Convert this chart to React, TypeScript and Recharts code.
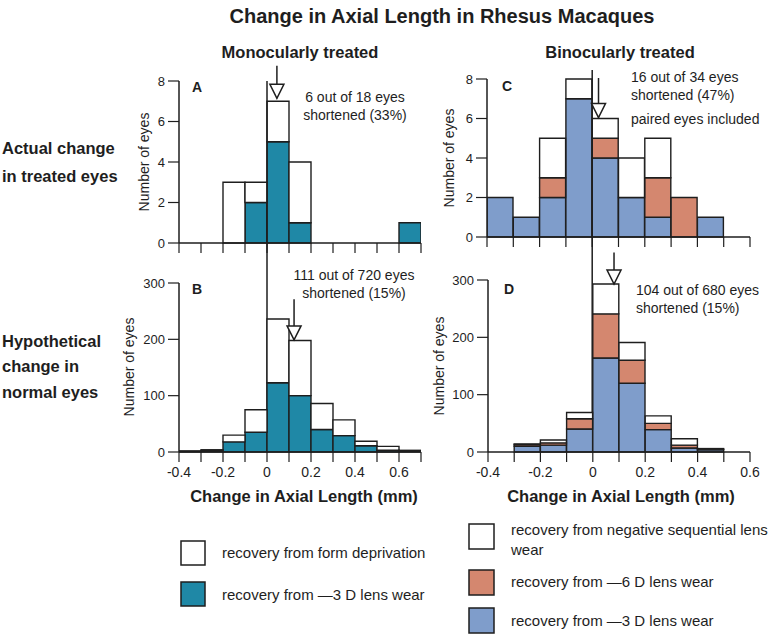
import React from "react";
import { BarChart, Bar, XAxis, YAxis, ReferenceLine, ReferenceDot } from "recharts";

const W = 768;
const H = 634;
const YW = 40;
const XH = 30;
const FONT = "'Liberation Sans', Arial, Helvetica, sans-serif";
const INK = "#1e1e1e";
const TEAL = "#1f88a6";
const BLUE = "#7f9dcb";
const SALMON = "#d4876f";

// bin centres (mm)
const binsMono = [-0.35, -0.25, -0.15, -0.05, 0.05, 0.15, 0.25, 0.35, 0.45, 0.55, 0.65];
const binsBino = [-0.35, -0.25, -0.15, -0.05, 0.05, 0.15, 0.25, 0.35, 0.45, 0.55];
const edgesMono = [-0.4, -0.3, -0.2, -0.1, 0, 0.1, 0.2, 0.3, 0.4, 0.5, 0.6, 0.7];
const edgesBino = [-0.4, -0.3, -0.2, -0.1, 0, 0.1, 0.2, 0.3, 0.4, 0.5, 0.6];
const eyeTicks = [0, 2, 4, 6, 8];
const normalTicks = [0, 100, 200, 300];

// A: monocular, treated eyes
const aLens3 = [0, 0, 0, 2, 5, 1, 0, 0, 0, 0, 1];
const aForm = [0, 0, 3, 1, 2, 3, 0, 0, 0, 0, 0];
// B: monocular, hypothetical normal eyes
const bLens3 = [1, 2, 18, 35, 123, 100, 40, 29, 11, 3, 2];
const bForm = [1, 2, 12, 40, 113, 98, 46, 28, 8, 7, 1];
// C: binocular, treated eyes
const cLens3 = [2, 1, 2, 7, 4, 2, 1, 0, 1, 0];
const cLens6 = [0, 0, 1, 0, 1, 0, 2, 2, 0, 0];
const cSeq = [0, 0, 2, 1, 1, 2, 2, 0, 0, 0];
// D: binocular, hypothetical normal eyes
const dLens3 = [0, 10, 12, 40, 164, 120, 39, 7, 4, 0];
const dLens6 = [0, 3, 4, 18, 77, 40, 11, 5, 1, 0];
const dSeq = [0, 1, 5, 11, 52, 31, 13, 11, 1, 0];

const dataA = binsMono.map((bin, i) => ({ bin, lens3: aLens3[i], form: aForm[i] }));
const dataB = binsMono.map((bin, i) => ({ bin, lens3: bLens3[i], form: bForm[i] }));
const dataC = binsBino.map((bin, i) => ({ bin, lens3: cLens3[i], lens6: cLens6[i], seq: cSeq[i] }));
const dataD = binsBino.map((bin, i) => ({ bin, lens3: dLens3[i], lens6: dLens6[i], seq: dSeq[i] }));

const monoSeries = [
  { key: "lens3", color: TEAL },
  { key: "form", color: "#fff" },
];
const binoSeries = [
  { key: "lens3", color: BLUE },
  { key: "lens6", color: SALMON },
  { key: "seq", color: "#fff" },
];

// plot boxes in page pixels
const boxA = { left: 179, right: 421, top: 81, bottom: 243 };
const boxB = { left: 179, right: 421, top: 283, bottom: 452 };
const boxC = { left: 487, right: 750, top: 79, bottom: 237 };
const boxD = { left: 488, right: 750, top: 280, bottom: 452 };

const evenTick = (p: any) => {
  const v = p.payload.value;
  if (Math.round(v * 10) % 2 !== 0) return <g />;
  return (
    <text x={p.x} y={p.y} dy="0.71em" textAnchor="middle" fontSize={14} fill={INK} fontFamily={FONT}>
      {v === 0 ? "0" : String(v)}
    </text>
  );
};
const noTick = () => <g />;

const head = (p: any) => (
  <path
    d={`M${p.cx - 7},${p.cy - 14} L${p.cx + 7},${p.cy - 14} L${p.cx},${p.cy} Z`}
    fill="#fff"
    stroke={INK}
    strokeWidth={1.5}
  />
);

const arrow = (x: number, tip: number, top: number) => [
  <ReferenceLine
    key="stem"
    segment={[{ x, y: top }, { x, y: tip }]}
    stroke={INK}
    strokeWidth={1.5}
    ifOverflow="visible"
  />,
  <ReferenceDot key="head" x={x} y={tip} r={0} ifOverflow="visible" shape={head} />,
];

const zeroLine = (top: number, bottom: number) => (
  <ReferenceLine
    key="zero"
    segment={[{ x: 0, y: top }, { x: 0, y: bottom }]}
    stroke={INK}
    strokeWidth={1.5}
    ifOverflow="visible"
  />
);

function Hist({ box, data, series, yMax, yTicks, edges, labels, children }: any) {
  return (
    <div style={{ position: "absolute", left: 0, top: 0 }}>
      <BarChart
        width={W}
        height={H}
        data={data}
        barCategoryGap={0}
        barGap={0}
        margin={{ top: box.top, left: box.left - YW, right: W - box.right, bottom: H - box.bottom - XH }}
      >
        <XAxis
          dataKey="bin"
          type="number"
          domain={[edges[0], edges[edges.length - 1]]}
          ticks={edges}
          interval={0}
          allowDataOverflow
          height={XH}
          tickSize={10}
          tickMargin={5}
          axisLine={{ stroke: INK, strokeWidth: 1.5 }}
          tickLine={{ stroke: INK, strokeWidth: 1.2 }}
          tick={labels ? evenTick : noTick}
        />
        <YAxis
          type="number"
          domain={[0, yMax]}
          ticks={yTicks}
          interval={0}
          width={YW}
          tickSize={11}
          tickMargin={3}
          axisLine={{ stroke: INK, strokeWidth: 1.5 }}
          tickLine={{ stroke: INK, strokeWidth: 1.2 }}
          tick={{ fontSize: 13, fill: INK, fontFamily: FONT }}
        />
        {series.map((s: any) => (
          <Bar
            key={s.key}
            dataKey={s.key}
            stackId="h"
            fill={s.color}
            stroke={INK}
            strokeWidth={1.4}
            isAnimationActive={false}
          />
        ))}
        {children}
      </BarChart>
    </div>
  );
}

export default function App() {
  const aUnit = (boxA.bottom - boxA.top) / 8;
  const cUnit = (boxC.bottom - boxC.top) / 8;
  const txt = { fontFamily: FONT, fill: INK } as any;
  return (
    <div style={{ position: "absolute", left: 0, top: 0, width: W, height: H, background: "#fff", overflow: "hidden" }}>
      <Hist box={boxA} data={dataA} series={monoSeries} yMax={8} yTicks={eyeTicks} edges={edgesMono} labels={false}>
        {zeroLine(8, -(boxB.bottom - boxA.bottom) / aUnit)}
        {arrow(0.045, 7.15, 8.75)}
      </Hist>
      <Hist box={boxB} data={dataB} series={monoSeries} yMax={300} yTicks={normalTicks} edges={edgesMono} labels>
        {arrow(0.123, 199, 271)}
      </Hist>
      <Hist box={boxC} data={dataC} series={binoSeries} yMax={8} yTicks={eyeTicks} edges={edgesBino} labels={false}>
        {zeroLine(8 + 9 / cUnit, -(boxD.bottom - boxC.bottom) / cUnit)}
        {arrow(0.024, 6.05, 8.05)}
      </Hist>
      <Hist box={boxD} data={dataD} series={binoSeries} yMax={300} yTicks={normalTicks} edges={edgesBino} labels>
        {arrow(0.081, 293, 348)}
      </Hist>

      <svg width={W} height={H} style={{ position: "absolute", left: 0, top: 0, pointerEvents: "none" }}>
        <text {...txt} x={442} y={23} fontSize={20} fontWeight="bold" textAnchor="middle">
          Change in Axial Length in Rhesus Macaques
        </text>
        <text {...txt} x={300} y={58} fontSize={16.5} fontWeight="bold" textAnchor="middle">
          Monocularly treated
        </text>
        <text {...txt} x={620} y={58} fontSize={16.5} fontWeight="bold" textAnchor="middle">
          Binocularly treated
        </text>

        <g fontSize={16.5} fontWeight="bold" {...txt}>
          <text x={2} y={154}>Actual change</text>
          <text x={2} y={182}>in treated eyes</text>
          <text x={2} y={347}>Hypothetical</text>
          <text x={2} y={372}>change in</text>
          <text x={2} y={398}>normal eyes</text>
        </g>

        <g fontSize={14} {...txt}>
          {[
            [144, 162],
            [129, 367],
            [449, 158],
            [439, 366],
          ].map(([x, y], i) => (
            <text key={i} x={x} y={y} textAnchor="middle" dominantBaseline="central" transform={`rotate(-90 ${x} ${y})`}>
              Number of eyes
            </text>
          ))}
        </g>

        <g fontSize={14} fontWeight="bold" {...txt}>
          <text x={192} y={92}>A</text>
          <text x={192} y={294}>B</text>
          <text x={502} y={91}>C</text>
          <text x={504} y={294}>D</text>
        </g>

        <g fontSize={14} {...txt}>
          <text x={355} y={102} textAnchor="middle">6 out of 18 eyes</text>
          <text x={355} y={120} textAnchor="middle">shortened (33%)</text>
          <text x={354} y={280} textAnchor="middle">111 out of 720 eyes</text>
          <text x={354} y={298} textAnchor="middle">shortened (15%)</text>
          <text x={631} y={82}>16 out of 34 eyes</text>
          <text x={631} y={100}>shortened (47%)</text>
          <text x={631} y={124}>paired eyes included</text>
          <text x={636} y={295}>104 out of 680 eyes</text>
          <text x={636} y={313}>shortened (15%)</text>
        </g>

        <g fontSize={16.5} fontWeight="bold" {...txt}>
          <text x={304} y={502} textAnchor="middle">Change in Axial Length (mm)</text>
          <text x={621} y={502} textAnchor="middle">Change in Axial Length (mm)</text>
        </g>

        <g stroke={INK} strokeWidth={1.5}>
          <rect x={181} y={541} width={24} height={24} fill="#fff" />
          <rect x={181} y={582} width={24} height={24} fill={TEAL} />
          <rect x={469} y={524} width={25} height={25} fill="#fff" />
          <rect x={469} y={570} width={25} height={25} fill={SALMON} />
          <rect x={469} y={608} width={25} height={25} fill={BLUE} />
        </g>
        <g fontSize={15} {...txt}>
          <text x={222} y={558}>recovery from form deprivation</text>
          <text x={222} y={600}>recovery from —3 D lens wear</text>
          <text x={511} y={535}>recovery from negative sequential lens</text>
          <text x={511} y={555}>wear</text>
          <text x={511} y={587}>recovery from —6 D lens wear</text>
          <text x={511} y={626}>recovery from —3 D lens wear</text>
        </g>
      </svg>
    </div>
  );
}
